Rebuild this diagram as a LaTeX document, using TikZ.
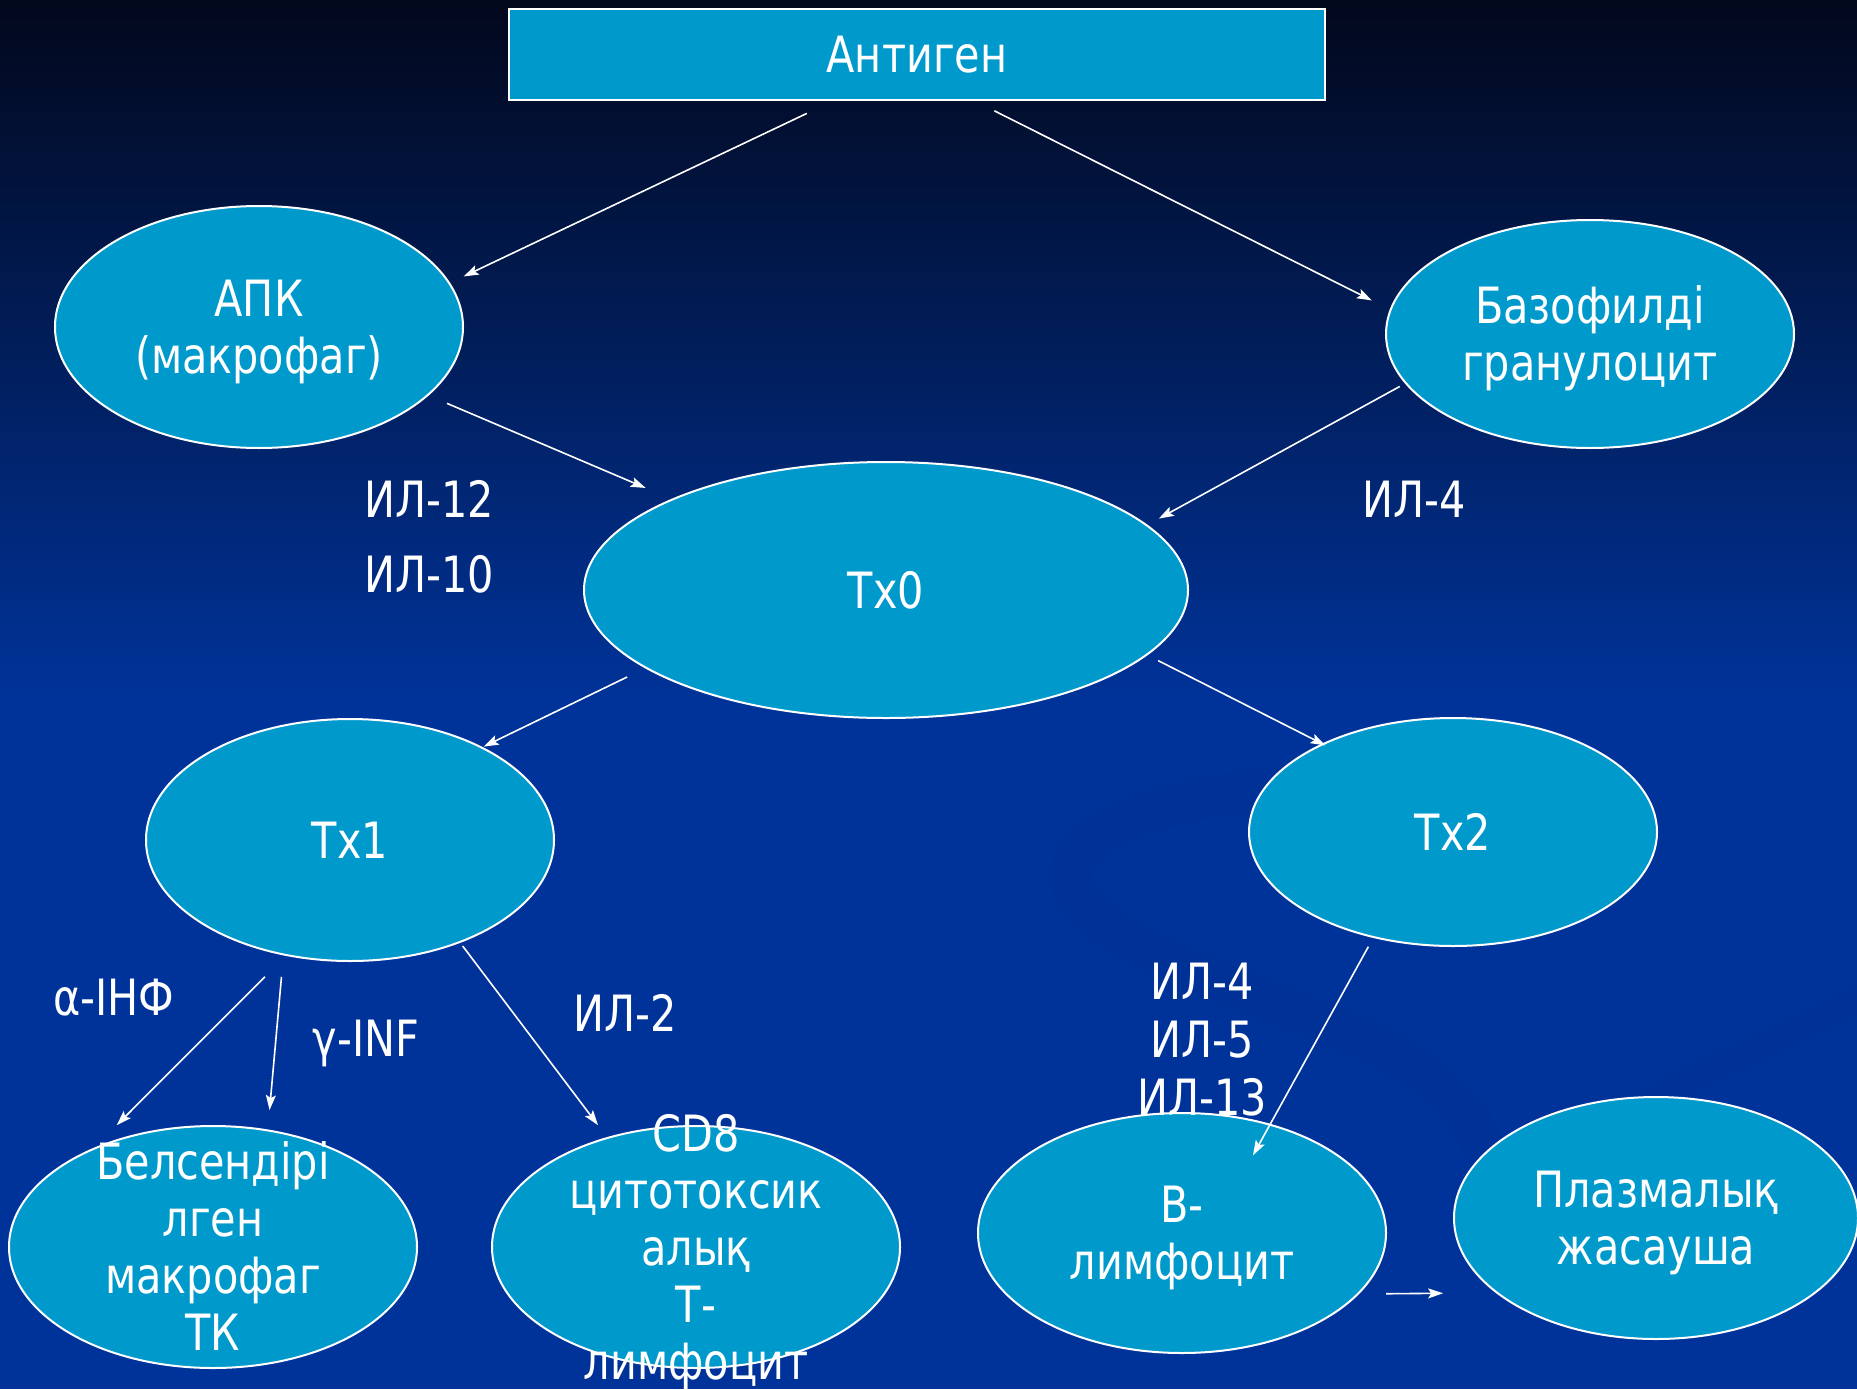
\documentclass[tikz,border=0pt]{standalone}
\usepackage{fontspec}
\setmainfont{DejaVu Sans Condensed}[FakeStretch=0.92]
\usetikzlibrary{shapes.geometric,arrows.meta}

\definecolor{cellfill}{RGB}{0,153,204}
\definecolor{bgtop}{RGB}{2,8,28}
\definecolor{bgmid}{RGB}{0,34,106}
\definecolor{bgbot}{RGB}{0,51,153}
\definecolor{swirl}{RGB}{0,40,132}

% multi-line text that must not stretch the ellipse
\newcommand{\celltext}[1]{\raisebox{-0.26em}[0pt][0pt]{\begin{tabular}{@{}c@{}}#1\end{tabular}}}

\begin{document}
\begin{tikzpicture}[x=1pt,y=-1pt,
    cell/.style={ellipse, draw=white, line width=2pt, fill=cellfill, text=white,
                 inner sep=0pt, minimum width=408pt, minimum height=242pt,
                 font=\fontsize{50}{57}\selectfont},
    flat/.style={cell, minimum height=228pt},
    topbox/.style={rectangle, draw=white, line width=2pt, fill=cellfill, text=white,
                   minimum width=816pt, minimum height=90pt,
                   font=\fontsize{50}{57}\selectfont},
    tag/.style={text=white, align=center, inner sep=0pt,
                font=\fontsize{50}{58}\selectfont},
    arr/.style={draw=white, line width=1.6pt,
                -{Stealth[length=15pt,width=10pt,inset=3pt]}}]

  \useasboundingbox (0,0) rectangle (1857,1389);
  \fill[bgbot] (0,0) rectangle (1857,1389);
  \shade[top color=bgtop, middle color=bgmid, bottom color=bgbot] (0,0) rectangle (1857,700);
  % faint swirl in the background
  \draw[swirl, line width=44pt, line cap=round, opacity=0.14]
    (1520,790) .. controls (1150,760) and (980,850) .. (1120,935)
               .. controls (1260,1015) and (1430,1030) .. (1480,1140);
  \draw[swirl, line width=30pt, line cap=round, opacity=0.12]
    (1857,1000) .. controls (1700,1080) and (1560,1120) .. (1500,1250);

  \node[topbox]                  (antigen) at (917,54.5) {Антиген};
  \node[cell]                    (apk)     at (259,327)  {\celltext{АПК\\(макрофаг)}};
  \node[flat]                    (baso)    at (1590,334) {\celltext{Базофилді\\гранулоцит}};
  \node[cell, minimum width=604pt, minimum height=256pt]
                                 (tx0)     at (886,590)  {Тх0};
  \node[cell]                    (tx1)     at (350,840)  {Тх1};
  \node[flat]                    (tx2)     at (1453,832) {Тх2};
  \node[cell]                    (belsen)  at (213,1247) {\celltext{Белсендірі\\лген\\макрофаг\\ТК}};
  \node[cell]                    (cd8)     at (696,1247) {\celltext{CD8\\цитотоксик\\алық\\Т-\\лимфоцит}};
  \node[cell, minimum height=240pt]
                                 (blym)    at (1182,1233) {\celltext{В-\\лимфоцит}};
  \node[cell, minimum width=404pt]
                                 (plasma)  at (1656,1218) {\celltext{Плазмалық\\жасауша}};

  \node[tag] (il12)  at (429,499)   {ИЛ-12};
  \node[tag] (il10)  at (429,574)   {ИЛ-10};
  \node[tag] (il4)   at (1414,499)  {ИЛ-4};
  \node[tag] (alpha) at (114,998)   {α-ІНФ};
  \node[tag] (gamma) at (366,1043)  {γ-INF};
  \node[tag] (il2)   at (625,1013)  {ИЛ-2};
  \node[tag] (il4513) at (1202,1040) {ИЛ-4\\ИЛ-5\\ИЛ-13};

  \path[every edge/.style={arr}]
             (antigen.209.3) edge[shorten <=30pt, shorten >=15pt]   (apk.13.2)
             (antigen.321.6) edge[shorten <=23pt, shorten >=20pt]   (baso.173.8)
             (apk.338.6)     edge[shorten <=20pt, shorten >=28pt]   (tx0.157.6)
             (baso.195.4)    edge[shorten <=6pt,  shorten >=13pt]   (tx0.14)
             (tx0.198.3)     edge[shorten <=20pt, shorten >=1pt]    (tx1.35.1)
             (tx0.346)       edge[shorten <=12pt, shorten >=-4pt]   (tx2.146.9)
             (tx1.241.2)     edge[shorten <=29.5pt, shorten >=31.5pt] (belsen.140.2)
             (tx1.240.1)     edge[shorten <=21.5pt, shorten >=19.5pt] (belsen.65.1)
             (tx1.317.4)     edge[shorten <=4pt,  shorten >=15pt]   (cd8.129.3)
             (tx2.233.6)     edge[shorten <=10pt, shorten >=-36pt]  (blym.51.1)
             (blym.341.25)   edge[shorten <=27pt, shorten >=52.5pt] (plasma.205.3);
\end{tikzpicture}
\end{document}
